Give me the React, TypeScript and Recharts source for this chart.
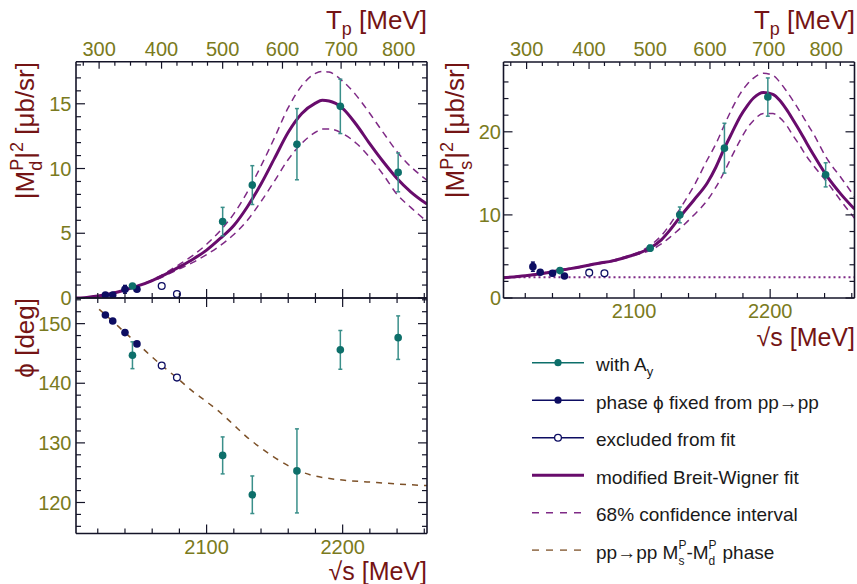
import React from 'react';
import { ComposedChart, Line, Scatter, XAxis, YAxis, ErrorBar, ReferenceLine } from 'recharts';

// ---------- kinematics for the secondary (T_p) axis ----------
const M_P = 938.272;
const sqrtSFromTp = (tp: number) => Math.sqrt(2 * M_P * (2 * M_P + tp));
const tpFromSqrtS = (w: number) => (w * w) / (2 * M_P) - 2 * M_P;

// ---------- axes ----------
const X_DOMAIN: [number, number] = [2004, 2262];
const SQRT_S_TICKS = [2020, 2040, 2060, 2080, 2100, 2120, 2140, 2160, 2180, 2200, 2220, 2240, 2260];
const SQRT_S_LABELS = [2100, 2200];
const TP_TICKS = [275, 300, 325, 350, 375, 400, 425, 450, 475, 500, 525, 550, 575, 600, 625, 650, 675, 700, 725, 750, 775, 800, 825];
const TP_LABELS = [300, 400, 500, 600, 700, 800];
const TP_TICK_POS = TP_TICKS.map(sqrtSFromTp);

const MD_DOMAIN: [number, number] = [0, 18.25];
const MD_TICKS = [0, 1, 2, 3, 4, 5, 6, 7, 8, 9, 10, 11, 12, 13, 14, 15, 16, 17, 18];
const MD_LABELS = [0, 5, 10, 15];

const PH_DOMAIN: [number, number] = [114.8, 154.3];
const PH_TICKS = [116, 118, 120, 122, 124, 126, 128, 130, 132, 134, 136, 138, 140, 142, 144, 146, 148, 150, 152, 154];
const PH_LABELS = [120, 130, 140, 150];

const MS_DOMAIN: [number, number] = [0, 28.4];
const MS_TICKS = [0, 2, 4, 6, 8, 10, 12, 14, 16, 18, 20, 22, 24, 26, 28];
const MS_LABELS = [0, 10, 20];

// ---------- data points (sqrt(s) in MeV) ----------
const TEAL_X = [2045.5, 2111.8, 2133.6, 2166.4, 2198.3, 2240.8];
const NAVY_X = [2025.6, 2031.0, 2040.0, 2048.8];
const OPEN_X = [2067.0, 2078.2];

// |M_d^P|^2
const MD_TEAL = [0.93, 5.9, 8.72, 11.88, 14.8, 9.7];
const MD_TEAL_ERR = [0.15, 1.1, 1.5, 2.75, 2.1, 1.5];
const MD_NAVY = [0.23, 0.23, 0.67, 0.67];
const MD_NAVY_ERR = [0.08, 0.08, 0.3, 0.15];
const MD_OPEN = [0.93, 0.31];

// phase
const PH_TEAL = [144.7, 127.9, 121.3, 125.3, 145.6, 147.65];
const PH_TEAL_ERR = [2.25, 3.1, 3.15, 7.05, 3.25, 3.65];
const PH_NAVY = [151.46, 150.45, 148.5, 146.6];
const PH_OPEN = [142.96, 140.95];

// |M_s^P|^2
const MS_TEAL = [3.3, 6.0, 10.0, 18.03, 24.18, 14.82];
const MS_TEAL_ERR = [0.25, 0.35, 0.95, 3.0, 2.3, 1.45];
const MS_NAVY = [3.77, 3.1, 2.97, 2.65];
const MS_NAVY_ERR = [0.55, 0.25, 0.3, 0.2];
const MS_OPEN = [3.05, 2.97];
const MS_BACKGROUND = 2.49;

// ---------- curves ----------
const MD_CURVE_X = [2004, 2010, 2020, 2030, 2040, 2050, 2060, 2070, 2080, 2090, 2100, 2110, 2120, 2130, 2140, 2150, 2160, 2170, 2180, 2185, 2190, 2200, 2210, 2220, 2230, 2240, 2250, 2262];
const MD_FIT = [0, 0.02, 0.15, 0.35, 0.62, 0.95, 1.35, 1.85, 2.4, 3.0, 3.7, 4.6, 5.6, 7.05, 8.8, 10.8, 12.8, 14.25, 15.05, 15.27, 15.22, 14.65, 13.4, 11.9, 10.5, 9.23, 8.2, 7.25];
const MD_UP = [0, 0.02, 0.13, 0.33, 0.6, 0.95, 1.4, 1.95, 2.6, 3.3, 4.15, 5.2, 6.5, 8.2, 10.2, 12.4, 14.7, 16.4, 17.35, 17.5, 17.45, 16.75, 15.65, 14.25, 12.75, 11.3, 10.15, 9.1];
const MD_LO = [0, 0.03, 0.17, 0.37, 0.64, 0.97, 1.3, 1.75, 2.25, 2.75, 3.35, 4.05, 4.9, 6.0, 7.45, 9.05, 10.7, 11.95, 12.8, 13.05, 13.05, 12.7, 11.95, 10.85, 9.5, 8.0, 7.0, 5.9];

const MS_CURVE_X = [2004, 2020, 2036, 2048, 2060, 2072, 2085, 2097, 2105, 2112, 2120, 2127, 2134, 2144, 2154, 2160, 2166, 2172, 2178, 2183, 2188, 2195, 2202, 2207, 2212, 2217, 2222, 2227, 2232, 2242, 2252, 2262];
const MS_FIT = [2.45, 2.68, 3.05, 3.4, 3.72, 4.12, 4.5, 5.06, 5.5, 6.05, 7.0, 8.3, 9.8, 11.8, 13.9, 15.7, 17.9, 19.9, 21.85, 23.1, 24.1, 24.74, 24.5, 23.8, 22.7, 21.4, 20.05, 18.6, 17.2, 14.6, 12.5, 10.7];
const MS_UP = [2.5, 2.72, 3.1, 3.45, 3.77, 4.18, 4.58, 5.15, 5.65, 6.35, 7.5, 9.0, 10.8, 13.5, 16.7, 18.5, 20.7, 22.8, 24.6, 25.7, 26.5, 27.05, 26.8, 26.0, 24.9, 23.7, 22.4, 21.05, 19.7, 16.7, 14.5, 12.2];
const MS_LO = [2.4, 2.64, 3.0, 3.35, 3.67, 4.06, 4.42, 4.97, 5.35, 5.75, 6.5, 7.4, 8.4, 10.0, 11.8, 13.3, 15.1, 17.1, 19.0, 20.4, 21.4, 22.2, 22.2, 21.7, 20.8, 19.5, 18.3, 17.0, 15.9, 13.9, 11.7, 9.6];

const PH_CURVE_X = [2021, 2025.5, 2031, 2040, 2049, 2058, 2067, 2079, 2090, 2100, 2110, 2120, 2129, 2139, 2149, 2159, 2166, 2176, 2188, 2203, 2225, 2250, 2262];
const PH_CURVE = [152.4, 151.5, 150.4, 148.5, 146.7, 144.8, 143.0, 140.75, 138.6, 136.9, 135.1, 133.0, 131.1, 129.3, 127.7, 126.3, 125.5, 124.65, 124.1, 123.7, 123.35, 122.97, 122.85];

// ---------- styles ----------
const FONT = '"Liberation Sans", Arial, Helvetica, sans-serif';
const TICK_COLOR = '#7a7a20';
const TITLE_COLOR = '#741414';
const FRAME = '#141428';
const TEAL = '#0d6f6a';
const TEAL_BAR = '#3a8f8a';
const NAVY = '#0d0d62';
const PURPLE = '#680c6c';
const PURPLE_D = '#7f2a86';
const BROWN = '#7d5128';
const AXIS_LINE = { stroke: FRAME, strokeWidth: 1.6 };

const zip = (xs: number[], ys: number[]) => xs.map((x, i) => ({ x, y: ys[i] }));
const pts = (xs: number[], ys: number[], errs?: number[]) =>
  xs.map((x, i) => ({ x, y: ys[i], err: errs ? errs[i] : 0 }));

// ---------- tick renderers ----------
const tickText = { fontSize: 20, fill: TICK_COLOR, fontFamily: FONT };

const bottomTick = (labels: number[], dy: number) => (p: any) => {
  const v = Number(p.payload.value);
  const major = v % 100 === 0;
  return (
    <g>
      <line x1={p.x} x2={p.x} y1={p.y} y2={p.y - (major ? 9 : 5)} stroke={FRAME} strokeWidth={1.2} />
      {labels.includes(v) ? (
        <text x={p.x} y={p.y + dy} textAnchor="middle" {...tickText}>{v}</text>
      ) : null}
    </g>
  );
};

const topSqrtTick = (p: any) => {
  const v = Number(p.payload.value);
  const major = v % 100 === 0;
  return <line x1={p.x} x2={p.x} y1={p.y} y2={p.y + (major ? 9 : 5)} stroke={FRAME} strokeWidth={1.2} />;
};

const topTpTick = (p: any) => {
  const tp = Math.round(tpFromSqrtS(Number(p.payload.value)));
  const major = TP_LABELS.includes(tp);
  return (
    <g>
      <line x1={p.x} x2={p.x} y1={p.y} y2={p.y + (major ? 7 : 4)} stroke={FRAME} strokeWidth={1.2} />
      {major ? (
        <text x={p.x} y={p.y - 6} textAnchor="middle" {...tickText}>{tp}</text>
      ) : null}
    </g>
  );
};

const leftTick = (labels: number[], gap: number) => (p: any) => {
  const v = Number(p.payload.value);
  const major = labels.includes(v);
  return (
    <g>
      <line x1={p.x} x2={p.x + (major ? 9 : 5)} y1={p.y} y2={p.y} stroke={FRAME} strokeWidth={1.2} />
      {major ? (
        <text x={p.x - gap} y={p.y} dy="0.36em" textAnchor="end" {...tickText}>{v}</text>
      ) : null}
    </g>
  );
};

const rightTick = (labels: number[]) => (p: any) => {
  const v = Number(p.payload.value);
  const major = labels.includes(v);
  return <line x1={p.x} x2={p.x - (major ? 9 : 5)} y1={p.y} y2={p.y} stroke={FRAME} strokeWidth={1.2} />;
};

// ---------- series builders ----------
const curve = (key: string, data: { x: number; y: number }[], stroke: string, w: number, dash?: string) => (
  <Line
    key={key}
    xAxisId="b"
    yAxisId="l"
    data={data}
    dataKey="y"
    type="monotone"
    stroke={stroke}
    strokeWidth={w}
    strokeDasharray={dash}
    dot={false}
    activeDot={false}
    isAnimationActive={false}
  />
);

const renderDot = (kind: string) => (p: any) => {
  const { cx, cy } = p;
  if (cx == null || cy == null) return <g />;
  if (kind === 'open') return <circle cx={cx} cy={cy} r={3.4} fill="#fff" stroke={NAVY} strokeWidth={1.3} />;
  return <circle cx={cx} cy={cy} r={3.8} fill={kind === 'teal' ? TEAL : NAVY} />;
};

const dots = (key: string, data: any[], kind: string, withErr: boolean) => (
  <Scatter key={key} xAxisId="b" yAxisId="l" data={data} dataKey="y" shape={renderDot(kind)} isAnimationActive={false}>
    {withErr ? (
      <ErrorBar
        dataKey="err"
        direction="y"
        width={2}
        stroke={kind === 'teal' ? TEAL_BAR : NAVY}
        strokeWidth={1.5}
        isAnimationActive={false}
      />
    ) : null}
  </Scatter>
);

// ---------- panel ----------
type PanelProps = {
  left: number;
  top: number;
  width: number;
  height: number;
  wl: number;
  wr: number;
  ht: number;
  hb: number;
  yDomain: [number, number];
  yTicks: number[];
  yLabels: number[];
  topTp: boolean;
  bottomLabels: boolean;
  bottomDy: number;
  labelGap: number;
  series: React.ReactNode[];
};

function Panel(props: PanelProps) {
  const { left, top, width, height, wl, wr, ht, hb, yDomain, yTicks, yLabels, topTp, bottomLabels, bottomDy, labelGap, series } = props;
  return (
    <div style={{ position: 'absolute', left, top }}>
      <ComposedChart width={width} height={height} margin={{ top: 0, right: 0, bottom: 0, left: 0 }}>
        <XAxis
          xAxisId="b"
          type="number"
          dataKey="x"
          orientation="bottom"
          height={hb}
          domain={X_DOMAIN}
          allowDataOverflow
          ticks={SQRT_S_TICKS}
          interval={0}
          tickSize={0}
          tickMargin={0}
          tickLine={false}
          axisLine={AXIS_LINE}
          tick={bottomTick(bottomLabels ? SQRT_S_LABELS : [], bottomDy)}
        />
        <XAxis
          xAxisId="t"
          type="number"
          dataKey="x"
          orientation="top"
          height={ht}
          domain={X_DOMAIN}
          allowDataOverflow
          ticks={topTp ? TP_TICK_POS : SQRT_S_TICKS}
          interval={0}
          tickSize={0}
          tickMargin={0}
          tickLine={false}
          axisLine={AXIS_LINE}
          tick={topTp ? topTpTick : topSqrtTick}
        />
        <YAxis
          yAxisId="l"
          type="number"
          dataKey="y"
          orientation="left"
          width={wl}
          domain={yDomain}
          allowDataOverflow
          ticks={yTicks}
          interval={0}
          tickSize={0}
          tickMargin={0}
          tickLine={false}
          axisLine={AXIS_LINE}
          tick={leftTick(yLabels, labelGap)}
        />
        <YAxis
          yAxisId="r"
          type="number"
          dataKey="y"
          orientation="right"
          width={wr}
          domain={yDomain}
          allowDataOverflow
          ticks={yTicks}
          interval={0}
          tickSize={0}
          tickMargin={0}
          tickLine={false}
          axisLine={AXIS_LINE}
          tick={rightTick(yLabels)}
        />
        {series}
      </ComposedChart>
    </div>
  );
}

// ---------- titles ----------
const titleProps = { fontSize: 26, fill: TITLE_COLOR, fontFamily: FONT };

function YTitle({ x, y, sub }: { x: number; y: number; sub: string }) {
  return (
    <text transform={`translate(${x},${y}) rotate(-90)`} textAnchor="end" {...titleProps}>
      |M
      <tspan fontSize={18} dy={-11}>P</tspan>
      <tspan fontSize={18} dx={-12} dy={19}>{sub}</tspan>
      <tspan dx={2} dy={-8}>|</tspan>
      <tspan fontSize={18} dy={-11}>2</tspan>
      <tspan dy={11}> [μb/sr]</tspan>
    </text>
  );
}

function TpTitle({ x, y }: { x: number; y: number }) {
  return (
    <text x={x} y={y} textAnchor="end" {...titleProps}>
      T<tspan fontSize={18} dy={6}>p</tspan>
      <tspan dy={-6}> [MeV]</tspan>
    </text>
  );
}

function SqrtSTitle({ x, y }: { x: number; y: number }) {
  return (
    <text x={x} y={y} textAnchor="end" {...titleProps} fontSize={25}>
      √s [MeV]
    </text>
  );
}

// ---------- legend ----------
const LEG_X0 = 532;
const LEG_X1 = 584;
const LEG_TX = 596;
const LEG_Y0 = 362.7;
const LEG_DY = 37.5;
const LEG_KINDS = ['teal', 'navy', 'open', 'fit', 'ci', 'pp'];

function legendLabel(kind: string) {
  switch (kind) {
    case 'teal':
      return (
        <>
          with A<tspan fontSize={13} dy={5}>y</tspan>
        </>
      );
    case 'navy':
      return <>phase ϕ fixed from pp→pp</>;
    case 'open':
      return <>excluded from fit</>;
    case 'fit':
      return <>modified Breit-Wigner fit</>;
    case 'ci':
      return <>68% confidence interval</>;
    default:
      return (
        <>
          pp→pp M
          <tspan fontSize={12} dy={-9.5}>P</tspan>
          <tspan fontSize={12} dx={-8} dy={16}>s</tspan>
          <tspan dx={2} dy={-6.5}>-M</tspan>
          <tspan fontSize={12} dy={-9.5}>P</tspan>
          <tspan fontSize={12} dx={-8} dy={16}>d</tspan>
          <tspan dx={2} dy={-6.5}> phase</tspan>
        </>
      );
  }
}

function LegendSymbol({ kind, y }: { kind: string; y: number }) {
  const xm = (LEG_X0 + LEG_X1) / 2;
  if (kind === 'teal' || kind === 'navy' || kind === 'open') {
    const c = kind === 'teal' ? TEAL : NAVY;
    return (
      <g>
        <line x1={LEG_X0} x2={LEG_X1} y1={y} y2={y} stroke={c} strokeWidth={1.5} />
        {kind === 'open' ? (
          <circle cx={xm} cy={y} r={3.4} fill="#fff" stroke={NAVY} strokeWidth={1.3} />
        ) : (
          <circle cx={xm} cy={y} r={3.6} fill={c} />
        )}
      </g>
    );
  }
  if (kind === 'fit') return <line x1={LEG_X0} x2={LEG_X1} y1={y} y2={y} stroke={PURPLE} strokeWidth={3} />;
  if (kind === 'ci') return <line x1={LEG_X0} x2={LEG_X1} y1={y} y2={y} stroke={PURPLE_D} strokeWidth={1.5} strokeDasharray="7 7" />;
  return <line x1={LEG_X0} x2={LEG_X1} y1={y} y2={y} stroke={BROWN} strokeOpacity={0.75} strokeWidth={1.8} strokeDasharray="7 7" />;
}

export default function App() {
  const mdSeries = [
    curve('mdUp', zip(MD_CURVE_X, MD_UP), PURPLE_D, 1.5, '7 5'),
    curve('mdLo', zip(MD_CURVE_X, MD_LO), PURPLE_D, 1.5, '7 5'),
    curve('mdFit', zip(MD_CURVE_X, MD_FIT), PURPLE, 3),
    dots('mdNavy', pts(NAVY_X, MD_NAVY, MD_NAVY_ERR), 'navy', true),
    dots('mdOpen', pts(OPEN_X, MD_OPEN), 'open', false),
    dots('mdTeal', pts(TEAL_X, MD_TEAL, MD_TEAL_ERR), 'teal', true),
  ];
  const phSeries = [
    curve('phCurve', zip(PH_CURVE_X, PH_CURVE), BROWN, 1.5, '6 6'),
    dots('phNavy', pts(NAVY_X, PH_NAVY), 'navy', false),
    dots('phOpen', pts(OPEN_X, PH_OPEN), 'open', false),
    dots('phTeal', pts(TEAL_X, PH_TEAL, PH_TEAL_ERR), 'teal', true),
  ];
  const msSeries = [
    <ReferenceLine
      key="bg"
      xAxisId="b"
      yAxisId="l"
      y={MS_BACKGROUND}
      stroke={PURPLE_D}
      strokeWidth={2}
      strokeDasharray="2 3"
    />,
    curve('msUp', zip(MS_CURVE_X, MS_UP), PURPLE_D, 1.5, '7 5'),
    curve('msLo', zip(MS_CURVE_X, MS_LO), PURPLE_D, 1.5, '7 5'),
    curve('msFit', zip(MS_CURVE_X, MS_FIT), PURPLE, 3),
    dots('msNavy', pts(NAVY_X, MS_NAVY, MS_NAVY_ERR), 'navy', true),
    dots('msOpen', pts(OPEN_X, MS_OPEN), 'open', false),
    dots('msTeal', pts(TEAL_X, MS_TEAL, MS_TEAL_ERR), 'teal', true),
  ];

  return (
    <div style={{ position: 'absolute', left: 0, top: 0, width: 857, height: 584, background: '#fff', overflow: 'hidden' }}>
      <Panel
        left={0}
        top={0}
        width={440}
        height={310}
        wl={76}
        wr={13}
        ht={61.7}
        hb={12}
        yDomain={MD_DOMAIN}
        yTicks={MD_TICKS}
        yLabels={MD_LABELS}
        topTp
        bottomLabels={false}
        bottomDy={0}
        labelGap={4.5}
        series={mdSeries}
      />
      <Panel
        left={0}
        top={290}
        width={440}
        height={294}
        wl={76}
        wr={13}
        ht={8}
        hb={50.5}
        yDomain={PH_DOMAIN}
        yTicks={PH_TICKS}
        yLabels={PH_LABELS}
        topTp={false}
        bottomLabels
        bottomDy={20}
        labelGap={4.5}
        series={phSeries}
      />
      <Panel
        left={440}
        top={0}
        width={417}
        height={360}
        wl={63.5}
        wr={2.5}
        ht={62}
        hb={62}
        yDomain={MS_DOMAIN}
        yTicks={MS_TICKS}
        yLabels={MS_LABELS}
        topTp
        bottomLabels
        bottomDy={20.3}
        labelGap={2.5}
        series={msSeries}
      />
      <svg width={857} height={584} style={{ position: 'absolute', left: 0, top: 0, pointerEvents: 'none' }}>
        <TpTitle x={427} y={29} />
        <TpTitle x={855} y={29} />
        <YTitle x={34} y={62} sub="d" />
        <YTitle x={464} y={62} sub="s" />
        <text transform="translate(34,298) rotate(-90)" textAnchor="end" {...titleProps}>
          ϕ [deg]
        </text>
        <SqrtSTitle x={427} y={580} />
        <SqrtSTitle x={855} y={346} />
        {LEG_KINDS.map((k, i) => {
          const y = LEG_Y0 + i * LEG_DY;
          return (
            <g key={k}>
              <LegendSymbol kind={k} y={y} />
              <text x={LEG_TX} y={y + 8.5} fontSize={19} fill="#1a1a1a" fontFamily={FONT}>
                {legendLabel(k)}
              </text>
            </g>
          );
        })}
      </svg>
    </div>
  );
}
